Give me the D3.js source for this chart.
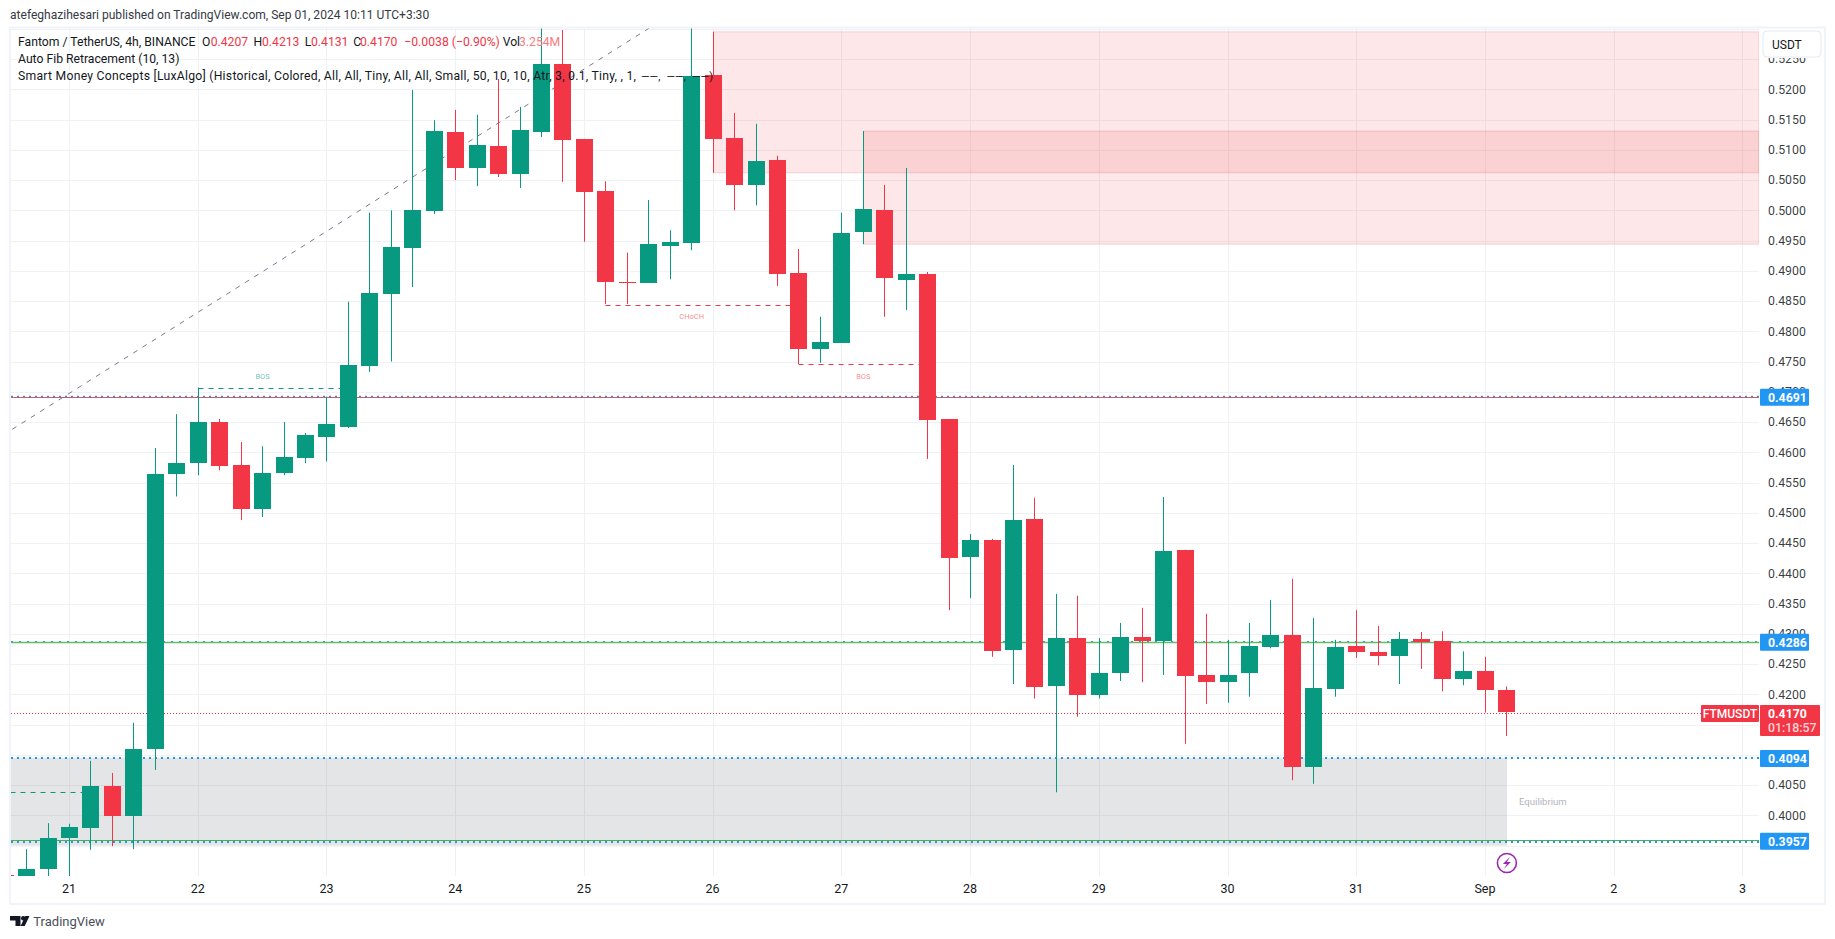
<!DOCTYPE html>
<html>
<head>
<meta charset="utf-8">
<script src="https://cdn.jsdelivr.net/npm/d3@7"></script>
<style>
html, body { margin: 0; padding: 0; background: #fff; }
svg { display: block; }
text { font-family: Roboto, "Noto Sans", sans-serif; }
</style>
</head>
<body>
<div class="chart"></div>
<script>
// 4h bars, first one starts three bars before the 21st
const opens = [.3901,.3893,.3910,.3962,.3979,.4049,.3999,.4110,.4564,.4582,.4650,.4579,.4506,.4565,.4590,.4625,.4642,.4743,.4862,.4938,.4999,.5129,.5070,.5106,.5060,.5129,.5242,.5118,.5032,.4882,.4880,.4941,.4946,.5224,.5120,.5042,.5083,.4896,.4771,.4781,.4964,.5000,.4885,.4895,.4655,.4427,.4455,.4273,.4490,.4214,.4293,.4199,.4236,.4295,.4288,.4439,.4232,.4220,.4236,.4278,.4298,.4080,.4209,.4280,.4270,.4263,.4291,.4288,.4225,.4238,.4207]
const highs = [.3910,.3944,.3987,.3986,.4090,.4070,.4153,.4607,.4663,.4707,.4655,.4617,.4610,.4650,.4632,.4692,.4849,.4996,.5000,.5199,.5149,.5166,.5158,.5217,.5171,.5315,.5298,.5118,.5048,.4930,.5017,.4967,.5315,.5295,.5161,.5143,.5090,.4936,.4824,.4996,.5131,.5042,.5070,.4898,.4655,.4465,.4457,.4579,.4525,.4366,.4363,.4293,.4318,.4343,.4526,.4439,.4333,.4290,.4318,.4356,.4391,.4326,.4290,.4339,.4313,.4303,.4303,.4304,.4271,.4262,.4213]
const lows = [.3877,.3885,.3885,.3868,.3943,.3949,.3944,.4075,.4527,.4562,.4570,.4488,.4493,.4562,.4582,.4585,.4640,.4733,.4750,.4873,.4994,.5050,.5040,.5055,.5037,.5121,.5047,.4948,.4845,.4845,.4880,.4886,.4934,.5062,.5000,.5008,.4875,.4746,.4748,.4781,.4944,.4824,.4835,.4589,.4339,.4359,.4262,.4217,.4193,.4038,.4163,.4193,.4222,.4220,.4232,.4118,.4184,.4186,.4196,.4276,.4058,.4052,.4196,.4260,.4248,.4217,.4242,.4205,.4215,.4170,.4131]
const closes = [.3885,.3911,.3962,.3981,.4049,.3999,.4110,.4564,.4582,.4650,.4577,.4506,.4565,.4592,.4628,.4647,.4745,.4864,.4939,.5000,.5131,.5070,.5108,.5060,.5133,.5242,.5116,.5030,.4882,.4880,.4944,.4948,.5222,.5118,.5042,.5082,.4895,.4771,.4782,.4963,.5002,.4887,.4895,.4653,.4425,.4455,.4272,.4488,.4212,.4293,.4198,.4236,.4295,.4288,.4437,.4230,.4220,.4232,.4280,.4298,.4080,.4210,.4278,.4270,.4263,.4291,.4286,.4225,.4238,.4206,.4170]

const priceTicks = d3.range(0, 28).map(i => 0.395 + i * 0.005)
const dayLabels = ['21','22','23','24','25','26','27','28','29','30','31','Sep','2','3']
const dayIndex = dayLabels.map((d, i) => i * 6)

// levels that carry a label on the price axis
const levels = [0.4691, 0.4286, 0.4094, 0.3957]
const lastPrice = 0.4170

// supply zones and equilibrium: start bar, top price, bottom price
// bar numbers count from the 21st, 0 = the bar on the 21 gridline
const zoneStart = [30, 37]
const zoneTop = [0.5295, 0.5131]
const zoneBottom = [0.5062, 0.4944]
const equilibrium = [0.4095, 0.3950]

// auto fib trend line, bar number and price
const fibBars = [-2.67, 27.1]
const fibPrices = [0.4638, 0.5303]

// structure lines: from bar, to bar, price, label
const structBars = [[6, 13], [-6, 1], [25, 34], [34, 40]]
const structPrices = [0.4706, 0.4038, 0.4844, 0.4746]
const structColors = ['#089981', '#089981', '#f23645', '#f23645']
const structLabels = ['BOS', '', 'CHoCH', 'BOS']
const structLabelBars = [9, 0, 29, 37]

var margin = {top: 28, right: 76, bottom: 63, left: 11},
    width = 1835 - margin.left - margin.right,
    height = 939 - margin.top - margin.bottom;

const red = '#f23645', green = '#089981', blue = '#2196f3'

var x = d3.scaleLinear()
    .domain([-3, 67])
    .range([5.14 - margin.left, 1506.9 - margin.left])

var y = d3.scaleLinear()
    .domain([0.52, 0.40])
    .range([89.3 - margin.top, 815.3 - margin.top])

const snap = v => Math.floor(x(v)) + 0.5
const svg = d3.select('.chart').append('svg')
    .attr('width', 1835).attr('height', 939)

svg.append('defs').append('clipPath').attr('id', 'pane')
    .append('rect').attr('width', width).attr('height', height)

const root = svg.append('g')
    .attr('transform', 'translate(' + margin.left + ',' + margin.top + ')')
const pane = root.append('g').attr('clip-path', 'url(#pane)')

// grid
pane.selectAll('.hgrid').data(priceTicks).enter().append('line')
    .attr('x1', 0).attr('x2', width)
    .attr('y1', d => Math.round(y(d)) + 0.5).attr('y2', d => Math.round(y(d)) + 0.5)
    .attr('stroke', '#f0f1f4')
pane.selectAll('.vgrid').data(dayIndex).enter().append('line')
    .attr('x1', d => snap(d)).attr('x2', d => snap(d))
    .attr('y1', 0).attr('y2', height)
    .attr('stroke', '#f0f1f4')

// equilibrium zone
pane.append('rect')
    .attr('x', 0).attr('width', snap(67) + 0.5)
    .attr('y', y(equilibrium[0])).attr('height', y(equilibrium[1]) - y(equilibrium[0]))
    .attr('fill', '#787b86').attr('fill-opacity', 0.2)

// supply zones
zoneStart.forEach((s, i) => {
  pane.append('rect')
    .attr('x', snap(s)).attr('width', width - snap(s))
    .attr('y', y(zoneTop[i])).attr('height', y(zoneBottom[i]) - y(zoneTop[i]))
    .attr('fill', red).attr('fill-opacity', 0.12)
    .attr('stroke', red).attr('stroke-opacity', 0.2)
})

// fib line
pane.append('line')
    .attr('x1', x(fibBars[0])).attr('x2', x(fibBars[1]))
    .attr('y1', y(fibPrices[0])).attr('y2', y(fibPrices[1]))
    .attr('stroke', '#787b86').attr('stroke-dasharray', '5,6')

// horizontal levels
const hline = (p, color, w, dash, dy) => {
  const py = Math.round(y(p) + dy) + (w === 2 ? 0 : 0.5)
  pane.append('line')
    .attr('x1', 0).attr('x2', width)
    .attr('y1', py).attr('y2', py)
    .attr('stroke', color).attr('stroke-width', w)
    .attr('stroke-dasharray', dash)
}

hline(levels[0], '#e5534b', 1, null, 0)
hline(levels[0], blue, 1.4, '2,4', -1)
hline(levels[1], blue, 1, '2,6', -1)
hline(levels[1], '#66bb6a', 1.4, null, 0)
hline(levels[2], blue, 2, '2,4', 0)
hline(levels[3], blue, 2, '2,4', 0.7)
hline(levels[3], '#4caf50', 1, null, -1)
hline(lastPrice, red, 1, '1,2', 0.6)

// structure lines
structBars.forEach((b, i) => {
  pane.append('line')
    .attr('x1', snap(b[0])).attr('x2', snap(b[1]))
    .attr('y1', Math.round(y(structPrices[i])) + 0.5).attr('y2', Math.round(y(structPrices[i])) + 0.5)
    .attr('stroke', structColors[i]).attr('stroke-dasharray', '5,5')
  if (structLabels[i]) {
    pane.append('text')
      .attr('x', x(structLabelBars[i]))
      .attr('y', y(structPrices[i]) + (structColors[i] === green ? -12 : 12))
      .attr('dy', '0.35em').attr('text-anchor', 'middle')
      .attr('font-size', 7.5).attr('fill', structColors[i]).attr('fill-opacity', 0.6)
      .text(structLabels[i])
  }
})

// candles
const bars = opens.map((o, i) => ({i: i - 3, o: o, h: highs[i], l: lows[i], c: closes[i]}))
const candleColor = d => d.c >= d.o ? green : red

pane.selectAll('.wick').data(bars).enter().append('line')
    .attr('x1', d => snap(d.i)).attr('x2', d => snap(d.i))
    .attr('y1', d => y(d.h)).attr('y2', d => y(d.l))
    .attr('stroke', candleColor)

pane.selectAll('.body').data(bars).enter().append('rect')
    .attr('x', d => snap(d.i) - 8.5)
    .attr('width', 17)
    .attr('y', d => Math.round(y(Math.max(d.o, d.c))))
    .attr('height', d => Math.max(1, Math.round(Math.abs(y(d.o) - y(d.c)))))
    .attr('fill', candleColor)

// equilibrium label
pane.append('text')
    .attr('x', x(67) + 36).attr('y', y(equilibrium[0]) + 44)
    .attr('dy', '0.35em').attr('text-anchor', 'middle')
    .attr('font-size', 9.6).attr('fill', '#b2b5be')
    .text('Equilibrium')

// lightning mark
const mark = root.append('g')
    .attr('transform', 'translate(' + x(67) + ',' + (863 - margin.top) + ')')
mark.append('circle').attr('r', 9.5).attr('fill', '#fff')
    .attr('stroke', '#9c27b0').attr('stroke-width', 1.6)
mark.append('path').attr('d', 'M3,-6 L-4,1 L0,1 L-3,6 L4,-1 L0,-1 Z').attr('fill', '#9c27b0')

// price axis, 0.3950 and 0.5300 sit fully under the tags
const yAxis = root.append('g')
    .attr('transform', 'translate(' + width + ',0)')
    .call(d3.axisRight(y).tickValues(priceTicks.slice(1, -1)).tickSize(0).tickPadding(9).tickFormat(d3.format('.4f')))
yAxis.select('.domain').remove()
yAxis.selectAll('text')
    .attr('font-size', 12.3).attr('fill', '#131722').attr('fill-opacity', 0.85)
    .style('font-family', 'Roboto, "Noto Sans", sans-serif')

// time axis
const xAxis = root.append('g')
    .attr('transform', 'translate(-1,' + height + ')')
    .call(d3.axisBottom(x).tickValues(dayIndex).tickSize(0).tickPadding(8)
      .tickFormat((d, i) => dayLabels[i]))
xAxis.select('.domain').remove()
xAxis.selectAll('text')
    .attr('font-size', 12.5).attr('fill', '#131722')
    .style('font-family', 'Roboto, "Noto Sans", sans-serif')

// USDT button hides the top ticks
root.append('rect')
    .attr('x', width).attr('y', 0).attr('width', 64).attr('height', 30).attr('fill', '#fff')
root.append('rect')
    .attr('x', 1763 - margin.left).attr('y', 31 - margin.top)
    .attr('width', 58).attr('height', 26).attr('rx', 4)
    .attr('fill', '#fff').attr('stroke', '#e6e8ef')
root.append('text')
    .attr('x', 1772 - margin.left).attr('y', 44.5 - margin.top)
    .attr('dy', '0.35em').attr('font-size', 12).attr('fill', '#131722')
    .text('USDT')

// level tags
levels.forEach(p => {
  root.append('rect')
    .attr('x', width + 1).attr('y', y(p) - 8.5)
    .attr('width', 49).attr('height', 17).attr('rx', 1).attr('fill', blue)
  root.append('text')
    .attr('x', width + 9).attr('y', y(p))
    .attr('dy', '0.35em').attr('font-size', 12.3).attr('font-weight', 700).attr('fill', '#fff')
    .text(p.toFixed(4))
})

// last price tag
root.append('rect')
    .attr('x', width + 1).attr('y', y(lastPrice) - 7.5)
    .attr('width', 60).attr('height', 31).attr('rx', 1).attr('fill', red)
root.append('text')
    .attr('x', width + 9).attr('y', y(lastPrice) + 1)
    .attr('dy', '0.35em').attr('font-size', 12.3).attr('font-weight', 700).attr('fill', '#fff')
    .text(lastPrice.toFixed(4))
root.append('text')
    .attr('x', width + 9).attr('y', y(lastPrice) + 15)
    .attr('dy', '0.35em').attr('font-size', 12.3).attr('font-weight', 500).attr('fill', '#fff').attr('fill-opacity', 0.8)
    .text('01:18:57')
root.append('rect')
    .attr('x', width - 58).attr('y', y(lastPrice) - 7.5)
    .attr('width', 58).attr('height', 17).attr('rx', 1).attr('fill', red)
root.append('text')
    .attr('x', width - 29).attr('y', y(lastPrice) + 1)
    .attr('dy', '0.35em').attr('text-anchor', 'middle')
    .attr('font-size', 12).attr('font-weight', 500).attr('fill', '#fff')
    .text('FTMUSDT')

// frame
svg.append('rect')
    .attr('x', 10).attr('y', 27.5).attr('width', 1815).attr('height', 876.5)
    .attr('fill', 'none').attr('stroke', '#f0f3fa').attr('stroke-width', 2)

// header, legend, footer
const txt = (s, px, py, color, size) => svg.append('text')
    .attr('x', px).attr('y', py).attr('dy', '0.35em')
    .attr('font-size', size || 12.2).attr('fill', color || '#131722')
    .text(s)

txt('atefeghazihesari published on TradingView.com, Sep 01, 2024 10:11 UTC+3:30', 10, 15, '#363a45', 12.05)
txt('Fantom / TetherUS, 4h, BINANCE', 18, 42)
txt('O', 202, 42); txt('0.4207', 210.7, 42, red)
txt('H', 253.5, 42); txt('0.4213', 262, 42, red)
txt('L', 304.7, 42); txt('0.4131', 311, 42, red)
txt('C', 353.3, 42); txt('0.4170', 360, 42, red)
txt('\u22120.0038 (\u22120.90%)', 404.3, 42, red)
txt('Vol', 502.7, 42); txt('3.254M', 519, 42, '#f77c80')
txt('Auto Fib Retracement (10, 13)', 18, 59)
txt('Smart Money Concepts [LuxAlgo] (Historical, Colored, All, All, Tiny, All, All, Small, 50, 10, 10, Atr, 3, 0.1, Tiny, , 1,', 18, 76)
    .attr('textLength', 618).attr('lengthAdjust', 'spacing')
txt('\u2014\u2014,', 641, 76, '#131722', 11)
txt('\u2014\u2014,', 666.5, 76, '#131722', 11)
txt('\u2014\u2014)', 692, 76, '#131722', 11)

txt('TradingView', 33.3, 921.5, '#4a4e59', 13)
svg.append('path').attr('fill', '#131722')
    .attr('d', 'M10,916H20.5V926H15.5V920.5H10Z M29.5,916L24.7,926H20.6L25.3,916Z')
svg.append('circle').attr('cx', 23.2).attr('cy', 918.2).attr('r', 2.2).attr('fill', '#131722')
</script>
</body>
</html>
